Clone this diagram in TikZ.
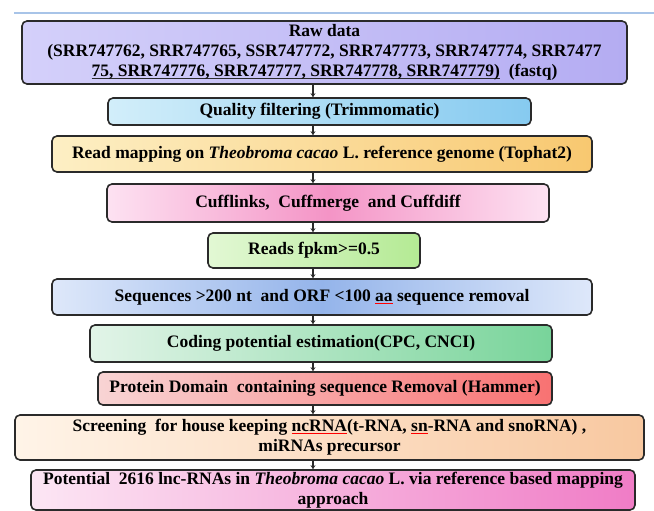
\documentclass[tikz,border=0pt]{standalone}
\usepackage{fontspec}
\setmainfont{Liberation Serif}
\usetikzlibrary{arrows.meta}
\definecolor{bordc}{HTML}{2A2A2A}
\newsavebox\ulsave
\newcommand\myul[2]{\sbox\ulsave{#2}\rlap{\textcolor{#1}{\rule[-2.4pt]{\wd\ulsave}{0.8pt}}}\usebox\ulsave}
\begin{document}
\begin{tikzpicture}[x=1pt,y=-1pt,
  box/.style={draw=bordc, line width=1.6pt, rounded corners=5pt, inner sep=0pt,
    align=center, font=\fontsize{17.5}{20}\selectfont\bfseries},
  conn/.style={draw=bordc, line width=2pt, -{Stealth[length=4pt,width=5pt]}}]
\useasboundingbox (0,0) rectangle (654,511);
\draw[line width=1.4pt, color={rgb,255:red,168;green,196;blue,232}] (14,13) -- (654,13);
\coordinate (cx) at (313,0);
\newcommand\bx[8]{%
  \node[box, left color=#6, right color=#7, minimum width={#4-#2}, minimum height={#5-#3}]
    (#1) at ({(#2+#4)/2},{(#3+#5)/2}) {#8};}
\definecolor{c1l}{HTML}{D4D0FA}\definecolor{c1r}{HTML}{B4ACF2}
\definecolor{c2l}{HTML}{D2EEFA}\definecolor{c2r}{HTML}{86CAF0}
\definecolor{c3l}{HTML}{FDEFC4}\definecolor{c3r}{HTML}{F8C870}
\definecolor{c5l}{HTML}{E2F8D4}\definecolor{c5r}{HTML}{B4EA94}
\definecolor{c7l}{HTML}{E2F4E8}\definecolor{c7r}{HTML}{78D49A}
\definecolor{c8l}{HTML}{F8D4D4}\definecolor{c8r}{HTML}{F87272}
\definecolor{c9l}{HTML}{FFF4E8}\definecolor{c9r}{HTML}{F8C8A0}
\definecolor{c10l}{HTML}{FCE6F4}\definecolor{c10r}{HTML}{F07CC6}
\bx{b1}{22}{21}{627}{84}{c1l}{c1r}{Raw data\\(SRR747762, SRR747765, SSR747772, SRR747773, SRR747774, SRR7477\\\myul{bordc}{75, SRR747776, SRR747777, SRR747778, SRR747779)}\ \ (fastq)}
\bx{b2}{108}{98}{531}{125}{c2l}{c2r}{Quality filtering (Trimmomatic)}
\bx{b3}{52}{136}{592}{172}{c3l}{c3r}{Read mapping on \textit{Theobroma cacao} L. reference genome (Tophat2)}
\node[box, left color={rgb,255:red,253;green,226;blue,242}, right color={rgb,255:red,253;green,226;blue,242}, middle color={rgb,255:red,244;green,148;blue,198}, minimum width=442, minimum height=38] (b4) at (328,203) {Cufflinks,\ \ Cuffmerge\ \ and Cuffdiff};
\bx{b5}{208}{233}{420}{268}{c5l}{c5r}{Reads fpkm>=0.5}
\node[box, left color={rgb,255:red,222;green,232;blue,250}, right color={rgb,255:red,222;green,232;blue,250}, middle color={rgb,255:red,148;green,180;blue,234}, minimum width=540, minimum height=36] (b6) at (322,297) {Sequences >200 nt\ \ and ORF <100 \myul{red}{aa} sequence removal};
\bx{b7}{90}{325}{552}{362}{c7l}{c7r}{Coding potential estimation(CPC, CNCI)}
\bx{b8}{98}{372}{552}{405}{c8l}{c8r}{Protein Domain\ \ containing sequence Removal (Hammer)}
\bx{b9}{15}{415}{644}{460}{c9l}{c9r}{\fontsize{17.5}{18}\selectfont Screening\ \ for house keeping \myul{red}{ncRNA}(t-RNA, \myul{red}{sn}-RNA and snoRNA) ,\\miRNAs precursor}
\bx{b10}{31}{470}{635}{510}{c10l}{c10r}{\raisebox{0pt}{Potential\ \ 2616 lnc-RNAs in \textit{Theobroma cacao} L. via reference based mapping}\\approach}
\foreach \a/\b in {b1/b2,b2/b3,b3/b4,b4/b5,b5/b6,b6/b7,b7/b8,b8/b9,b9/b10}
  \draw[conn] (\a.south -| cx) -- (\b.north -| cx);
\end{tikzpicture}
\end{document}
